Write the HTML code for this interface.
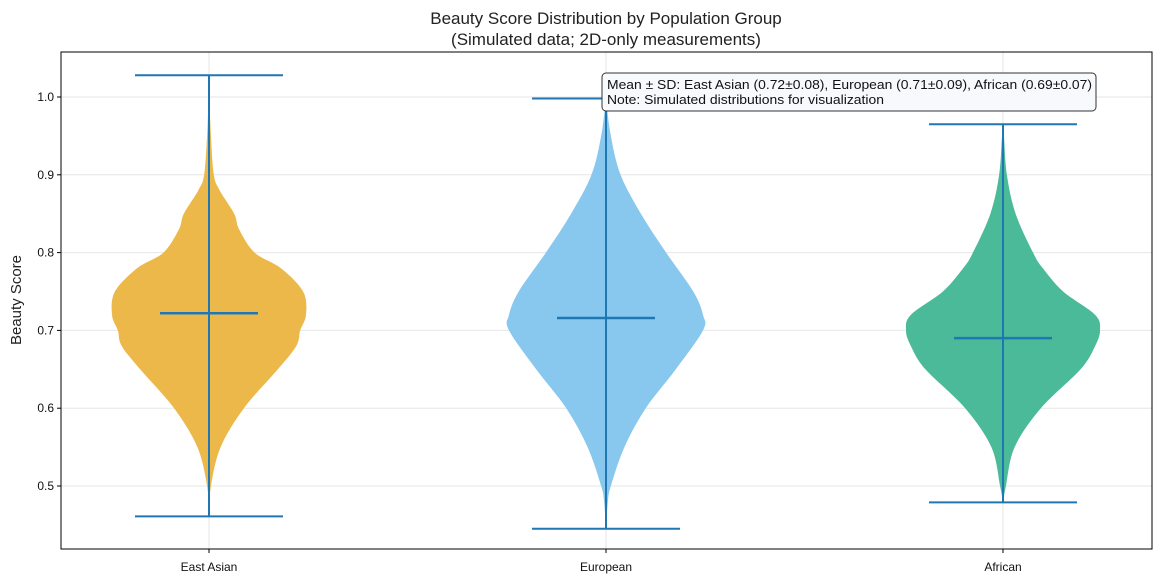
<!DOCTYPE html>
<html><head><meta charset="utf-8">
<style>
html,body{margin:0;padding:0;background:#fff;}
svg{display:block;font-family:"Liberation Sans",Arial,sans-serif;}
</style></head>
<body>
<svg id="chart" width="1163" height="584" viewBox="0 0 1163 584">
  <text x="606" y="24" text-anchor="middle" font-size="17" fill="#222">Beauty Score Distribution by Population Group</text>
  <text x="606" y="45" text-anchor="middle" font-size="17" fill="#222">(Simulated data; 2D-only measurements)</text>
  <text transform="translate(21,300) rotate(-90)" text-anchor="middle" font-size="15" fill="#222">Beauty Score</text>
  <g id="grid"></g>
  <g id="violins"></g>
  <g id="axes"></g>
  <g>
    <rect x="602" y="73" width="494" height="38" rx="4" fill="#f7f9fc" stroke="#333" stroke-width="1"/>
    <text x="607" y="89" font-size="13" fill="#111" textLength="485" lengthAdjust="spacingAndGlyphs">Mean ± SD: East Asian (0.72±0.08), European (0.71±0.09), African (0.69±0.07)</text>
    <text x="607" y="104" font-size="13" fill="#111" textLength="277" lengthAdjust="spacingAndGlyphs">Note: Simulated distributions for visualization</text>
  </g>
</svg>
<script>
const categories = ["East Asian","European","African"];
const colors = ["#ecb84a","#88c8ee","#4bba99"];
const means = [0.722,0.716,0.690];
const mins = [0.461,0.445,0.479];
const maxs = [1.028,0.998,0.965];
// density profiles: score levels and relative half-widths (0..1)
const eaLevels = [0.461,0.5,0.55,0.6,0.65,0.68,0.7,0.72,0.75,0.78,0.8,0.83,0.85,0.88,0.9,0.95,1.0,1.028];
const eaDensity = [0,0.02,0.12,0.36,0.71,0.9,0.94,1.0,0.97,0.74,0.47,0.31,0.26,0.11,0.05,0.02,0.005,0];
const euLevels = [0.445,0.48,0.5,0.55,0.6,0.65,0.7,0.72,0.75,0.8,0.85,0.9,0.95,0.998];
const euDensity = [0,0.02,0.05,0.19,0.41,0.72,1.0,1.0,0.9,0.62,0.36,0.15,0.05,0];
const afLevels = [0.479,0.5,0.55,0.6,0.65,0.68,0.7,0.72,0.75,0.78,0.8,0.85,0.9,0.95,0.965];
const afDensity = [0,0.03,0.12,0.39,0.8,0.95,1.0,0.95,0.62,0.41,0.31,0.13,0.04,0.01,0];
const levels = [eaLevels,euLevels,afLevels];
const densities = [eaDensity,euDensity,afDensity];
const yTicks = [0.5,0.6,0.7,0.8,0.9,1.0];
const yTickLabels = ["0.5","0.6","0.7","0.8","0.9","1.0"];

const L=61,R=1152,T=52,B=549;
const y = v => 486 + (0.5 - v) * 778;
const x = i => 209 + i * 397;
const maxHalf = 97;
const NS="http://www.w3.org/2000/svg";
function mk(tag, attrs, parent){const e=document.createElementNS(NS,tag);for(const k in attrs)e.setAttribute(k,attrs[k]);parent.appendChild(e);return e;}

const grid=document.getElementById('grid'), vg=document.getElementById('violins'), ax=document.getElementById('axes');
yTicks.forEach((t,i)=>{
  const g=mk('line',{x1:L,x2:R,y1:y(t),y2:y(t),stroke:'#e6e6e6','stroke-width':1},grid);
  
  
  const tk=mk('line',{x1:L-4,x2:L,y1:y(t),y2:y(t),stroke:'#000'},ax);
  
  
  const tx=mk('text',{x:L-7,y:y(t)+4,'text-anchor':'end','font-size':12,fill:'#111'},ax);
  tx.textContent=yTickLabels[i];
  
  
});
categories.forEach((c,i)=>{
  const gx=mk('line',{x1:x(i),x2:x(i),y1:T,y2:B,stroke:'#e6e6e6'},grid);
  
  
  const tk=mk('line',{x1:x(i),x2:x(i),y1:B,y2:B+4,stroke:'#000'},ax);
  
  
  const tx=mk('text',{x:x(i),y:B+22,'text-anchor':'middle','font-size':12,fill:'#111'},ax);
  tx.textContent=c;
  
  

  const lv=levels[i], dn=densities[i];
  const right=lv.map((v,k)=>[x(i)+dn[k]*maxHalf,y(v)]);
  const left=lv.map((v,k)=>[x(i)-dn[k]*maxHalf,y(v)]).reverse();
  const pts=right.concat(left);
  let d='M'+pts[0][0]+','+pts[0][1];
  for(let k=0;k<pts.length-1;k++){
    const p0=pts[Math.max(k-1,0)],p1=pts[k],p2=pts[k+1],p3=pts[Math.min(k+2,pts.length-1)];
    const c1=[p1[0]+(p2[0]-p0[0])/6,p1[1]+(p2[1]-p0[1])/6];
    const c2=[p2[0]-(p3[0]-p1[0])/6,p2[1]-(p3[1]-p1[1])/6];
    d+=` C${c1[0]},${c1[1]} ${c2[0]},${c2[1]} ${p2[0]},${p2[1]}`;
  }
  d+='Z';
  const body=mk('path',{d:d,fill:colors[i]},vg);
  
  
  const st='#1f77b4';
  const vl=mk('line',{x1:x(i),x2:x(i),y1:y(mins[i]),y2:y(maxs[i]),stroke:st,'stroke-width':2},vg);
  
  
  const cmax=mk('line',{x1:x(i)-74,x2:x(i)+74,y1:y(maxs[i]),y2:y(maxs[i]),stroke:st,'stroke-width':2},vg);
  
  
  const cmin=mk('line',{x1:x(i)-74,x2:x(i)+74,y1:y(mins[i]),y2:y(mins[i]),stroke:st,'stroke-width':2},vg);
  
  
  const ml=mk('line',{x1:x(i)-49,x2:x(i)+49,y1:y(means[i]),y2:y(means[i]),stroke:st,'stroke-width':2.5},vg);
  
  
});
const frame=mk('rect',{x:L,y:T,width:R-L,height:B-T,fill:'none',stroke:'#000','stroke-width':1},ax);


</script>
</body></html>
